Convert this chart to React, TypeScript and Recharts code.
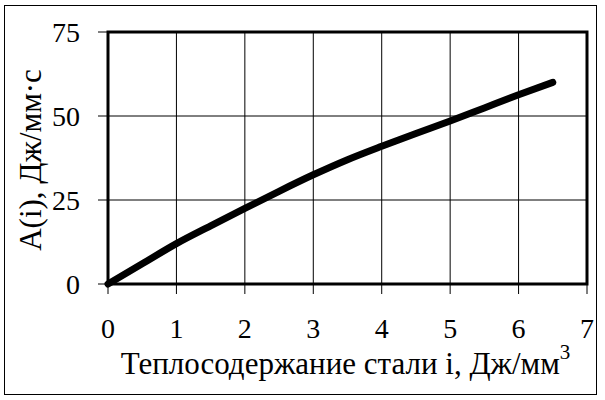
import { CartesianGrid, Label, Line, LineChart, ReferenceArea, XAxis, YAxis } from 'recharts'

const heatContent = [0, 0.5, 1, 1.5, 2, 2.5, 3, 3.5, 4, 4.5, 5, 5.5, 6, 6.5]
const power = [0, 6, 12, 17.3, 22.5, 27.6, 32.5, 37, 41, 44.8, 48.5, 52.4, 56.3, 60]
const xTicks = [0, 1, 2, 3, 4, 5, 6, 7]
const yTicks = [0, 25, 50, 75]

const data = heatContent.map((x, i) => ({ x, a: power[i] }))

const font = '"Liberation Serif", "Times New Roman", serif'
const tickStyle = { fill: '#000', fontSize: 28, fontFamily: font }

export default function App() {
  return (
    <div style={{ position: 'absolute', top: 0, left: 0, width: 605, height: 400, background: '#fff' }}>
      <div
        style={{
          position: 'absolute',
          left: 4,
          top: 5,
          width: 593,
          height: 390,
          border: '1px solid #000',
          boxSizing: 'border-box',
        }}
      />
      <LineChart width={605} height={400} data={data} margin={{ top: 32, right: 18, left: 0, bottom: 0 }}>
        <CartesianGrid stroke="#000" strokeWidth={1} />
        <XAxis
          dataKey="x"
          type="number"
          domain={[0, 7]}
          ticks={xTicks}
          interval={0}
          height={116}
          axisLine={false}
          tickLine={{ stroke: '#000', strokeWidth: 1 }}
          tickSize={10}
          tickMargin={24}
          tick={tickStyle}
        >
          <Label
            content={({ viewBox }: any) => (
              <text
                x={viewBox.x + viewBox.width / 2 - 2}
                y={viewBox.y + 90}
                textAnchor="middle"
                fontSize={31}
                fontFamily={font}
                fill="#000"
              >
                Теплосодержание стали i, Дж/мм
                <tspan fontSize={21} dy={-15}>3</tspan>
              </text>
            )}
          />
        </XAxis>
        <YAxis
          type="number"
          domain={[0, 75]}
          ticks={yTicks}
          interval={0}
          width={108}
          axisLine={false}
          tickLine={{ stroke: '#000', strokeWidth: 1 }}
          tickSize={10}
          tickMargin={18}
          tick={tickStyle}
        >
          <Label
            content={({ viewBox }: any) => {
              const cx = viewBox.x + 30
              const cy = viewBox.y + viewBox.height / 2 + 2
              return (
                <text
                  x={cx}
                  y={cy}
                  transform={`rotate(-90 ${cx} ${cy})`}
                  textAnchor="middle"
                  dominantBaseline="central"
                  fontSize={31}
                  fontFamily={font}
                  fill="#000"
                >
                  A(i), Дж/мм·с
                </text>
              )
            }}
          />
        </YAxis>
        <ReferenceArea x1={0} x2={7} y1={0} y2={75} fill="none" stroke="#000" strokeWidth={3} ifOverflow="visible" />
        <Line
          type="monotone"
          dataKey="a"
          stroke="#000"
          strokeWidth={7}
          strokeLinecap="round"
          dot={false}
          isAnimationActive={false}
        />
      </LineChart>
    </div>
  )
}
